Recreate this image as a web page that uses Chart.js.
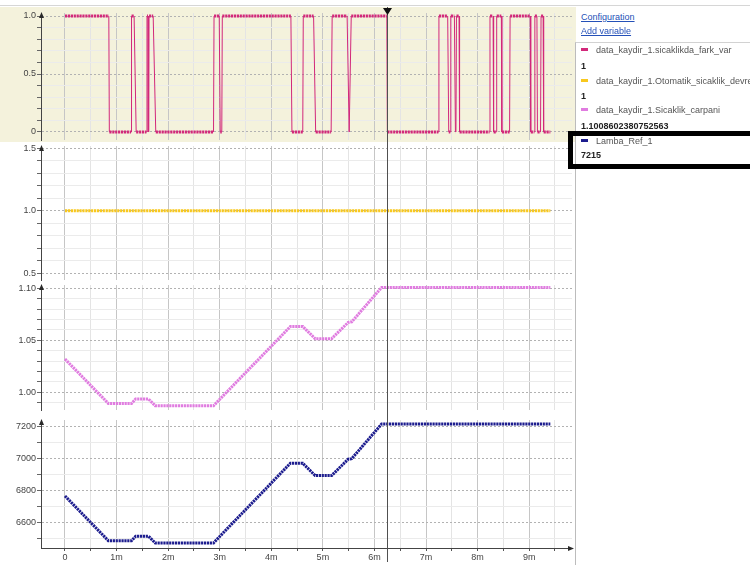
<!DOCTYPE html>
<html>
<head>
<meta charset="utf-8">
<script src="https://cdn.jsdelivr.net/npm/chart.js@4.4.1/dist/chart.umd.min.js"></script>
<style>
  html, body { margin: 0; padding: 0; background: #fff; width: 750px; height: 565px; overflow: hidden;
    font-family: "Liberation Sans", Arial, sans-serif; }
  .pane { position: absolute; left: 0; }
  canvas { display: block; }
  #topline { position: absolute; left: 0; top: 5px; width: 750px; height: 1px; background: #d6d6d6; }
  .link { position: absolute; left: 581px; font-size: 9px; line-height: 12px; color: #2450b8; text-decoration: underline; white-space: nowrap; }
  #box { position: absolute; left: 575px; top: 42px; width: 175px; height: 523px; border-left: 1px solid #bcbcbc; border-top: 1px solid #d2d2d2; background: #fff; }
  .row { position: absolute; left: 581px; font-size: 9px; line-height: 12px; white-space: nowrap; }
  .name { color: #555; }
  .val { color: #222; font-weight: bold; }
  .sw { display: inline-block; width: 7px; height: 3px; vertical-align: middle; margin-right: 8px; position: relative; top: -1px; }
  #focus { position: absolute; left: 568px; top: 131px; width: 200px; height: 38px; border: 5px solid #000; box-sizing: border-box; }
</style>
</head>
<body>
<div id="topline"></div>
<div class="pane" style="top:7px"><canvas id="c1" width="576" height="135" style="background:#f4f2dc"></canvas></div>
<div class="pane" style="top:142px"><canvas id="c2" width="576" height="140"></canvas></div>
<div class="pane" style="top:282px"><canvas id="c3" width="576" height="136"></canvas></div>
<div class="pane" style="top:418px"><canvas id="c4" width="576" height="147"></canvas></div>

<div class="link" style="top:11px">Configuration</div>
<div class="link" style="top:25px">Add variable</div>
<div id="box"></div>
<div id="legend"></div>
<div id="focus"></div>

<script>
// ---- time axis (minutes) ----
const xTickLabels = ['0', '1m', '2m', '3m', '4m', '5m', '6m', '7m', '8m', '9m'];
const cursorTime = 6.24;

// ---- variables shown in the side list ----
const seriesNames = [
  'data_kaydir_1.sicaklikda_fark_var',
  'data_kaydir_1.Otomatik_sicaklik_devrede',
  'data_kaydir_1.Sicaklik_carpani',
  'Lamba_Ref_1'
];
const seriesColors = ['#d2287a', '#f8c81e', '#e07ce0', '#1c1c8e'];
const cursorValues = ['1', '1', '1.1008602380752563', '7215'];

// ---- sicaklikda_fark_var (0 / 1 signal) ----
const farkTime = [0, 0.85, 0.86, 1.28, 1.29, 1.34, 1.38, 1.58, 1.59, 1.61, 1.615, 1.625,
  1.63, 1.71, 1.76, 2.88, 2.89, 2.99, 3.01, 3.04, 3.05, 4.38, 4.40, 4.61, 4.62, 4.82, 4.86,
  5.16, 5.18, 5.47, 5.51, 5.55, 6.24, 6.25, 7.24, 7.25, 7.42, 7.44, 7.47, 7.48, 7.55, 7.57,
  7.58, 7.59, 7.64, 7.65, 8.23, 8.24, 8.30, 8.31, 8.36, 8.37, 8.46, 8.47, 8.62, 8.63, 9.02,
  9.03, 9.10, 9.11, 9.15, 9.16, 9.22, 9.23, 9.27, 9.28, 9.41];
const farkValue = [1, 1, 0, 0, 1, 1, 0, 0, 1, 1, 0, 0, 1, 1, 0, 0, 1, 1, 0, 0, 1, 1, 0, 0,
  1, 1, 0, 0, 1, 1, 0, 1, 1, 0, 0, 1, 1, 0, 0, 1, 1, 0, 0, 1, 1, 0, 0, 1, 1, 0, 0, 1, 1, 0, 0,
  1, 1, 0, 0, 1, 1, 0, 0, 1, 1, 0, 0];

// ---- Otomatik_sicaklik_devrede ----
const otoTime = [0, 9.41];
const otoValue = [1, 1];

// ---- Sicaklik_carpani ----
const carpTime = [0, 0.84, 1.29, 1.37, 1.62, 1.75, 2.88, 4.37, 4.61, 4.85, 5.17, 5.49, 5.56, 6.14, 9.41];
const carpValue = [1.032, 0.9893, 0.9893, 0.9935, 0.9935, 0.9871, 0.9871, 1.0633, 1.0633,
  1.0516, 1.0516, 1.0672, 1.0678, 1.1009, 1.1009];

// ---- Lamba_Ref_1 ----
const lambaTime = [0, 0.84, 1.29, 1.37, 1.62, 1.75, 2.88, 4.37, 4.61, 4.85, 5.17, 5.49, 5.56, 6.14, 9.41];
const lambaValue = [6764, 6484, 6484, 6511, 6511, 6470, 6470, 6969, 6969, 6892, 6892, 6994, 6998, 7215, 7215];

// ---- y-axis labelled ticks per panel ----
const yMajor1 = [0, 0.5, 1.0], yLabels1 = ['0', '0.5', '1.0'];
const yMajor2 = [0.5, 1.0, 1.5], yLabels2 = ['0.5', '1.0', '1.5'];
const yMajor3 = [1.00, 1.05, 1.10], yLabels3 = ['1.00', '1.05', '1.10'];
const yMajor4 = [6600, 6800, 7000, 7200], yLabels4 = ['6600', '6800', '7000', '7200'];

// side list
const legend = document.getElementById('legend');
const nameTops = [44, 74.5, 104, 135];
const valTops = [59.5, 89.5, 120, 148.5];
seriesNames.forEach((n, i) => {
  const r = document.createElement('div');
  r.className = 'row name';
  r.style.top = nameTops[i] + 'px';
  r.innerHTML = '<span class="sw" style="background:' + seriesColors[i] + '"></span>' + n;
  legend.appendChild(r);
  const v = document.createElement('div');
  v.className = 'row val';
  v.style.top = valTops[i] + 'px';
  v.textContent = cursorValues[i];
  legend.appendChild(v);
});

const pts = (t, v) => t.map((x, i) => ({ x: x, y: v[i] }));
const near = (v, list) => list.findIndex(m => Math.abs(v - m) < 1e-7);

// evenly spaced ticks between the axis limits
const stepTicks = step => s => {
  const out = [];
  const k0 = Math.ceil(s.min / step - 1e-9), k1 = Math.floor(s.max / step + 1e-9);
  for (let k = k0; k <= k1; k++) out.push({ value: Math.round(k * step * 1e6) / 1e6 });
  s.ticks = out;
};

// axis arrows + time cursor
const decor = {
  id: 'decor',
  afterDraw(chart, args, o) {
    const { ctx, chartArea: a, scales } = chart;
    ctx.save();
    ctx.fillStyle = '#2a2a2a';
    const lx = a.left + 0.5;
    ctx.beginPath();
    ctx.moveTo(lx, a.top - 1);
    ctx.lineTo(lx - 2.5, a.top + 5);
    ctx.lineTo(lx + 2.5, a.top + 5);
    ctx.closePath();
    ctx.fill();
    if (o.xArrow) {
      const by = a.bottom + 0.5;
      ctx.beginPath();
      ctx.moveTo(a.right + 2, by);
      ctx.lineTo(a.right - 4, by - 2.5);
      ctx.lineTo(a.right - 4, by + 2.5);
      ctx.closePath();
      ctx.fill();
    }
    const cx = Math.round(scales.x.getPixelForValue(cursorTime)) + 0.5;
    ctx.strokeStyle = '#505050';
    ctx.lineWidth = 1;
    ctx.beginPath();
    ctx.moveTo(cx, o.cursorTop || 0);
    ctx.lineTo(cx, o.cursorBottom || chart.height);
    ctx.stroke();
    if (o.marker) {
      ctx.fillStyle = '#111';
      ctx.beginPath();
      ctx.moveTo(cx - 4.5, 1);
      ctx.lineTo(cx + 4.5, 1);
      ctx.lineTo(cx, 8);
      ctx.closePath();
      ctx.fill();
    }
    ctx.restore();
  }
};

const tickFont = { family: 'Liberation Sans', size: 9 };

function xScale(showLabels) {
  return {
    type: 'linear',
    min: -0.465,
    max: 9.83,
    afterBuildTicks: stepTicks(0.5),
    afterFit: s => { s.height = showLabels ? 17 : 0; s.paddingLeft = 0; s.paddingRight = 0; },
    border: { display: showLabels, color: '#444', width: 1 },
    grid: {
      drawTicks: showLabels,
      tickLength: 3,
      tickColor: '#555',
      color: c => (c.tick && Math.abs(c.tick.value - Math.round(c.tick.value)) < 1e-6) ? '#c6c6c6' : '#e4e4e4'
    },
    ticks: {
      display: showLabels,
      autoSkip: false,
      maxRotation: 0,
      padding: 1,
      color: '#444',
      font: tickFont,
      callback: v => {
        const k = Math.round(v);
        return Math.abs(v - k) < 1e-6 && k >= 0 && k < xTickLabels.length ? xTickLabels[k] : '';
      }
    }
  };
}

function yScale(min, max, step, majors, labels) {
  return {
    type: 'linear',
    min: min,
    max: max,
    afterBuildTicks: stepTicks(step),
    afterFit: s => { s.width = 41; s.paddingTop = 0; s.paddingBottom = 0; },
    border: {
      color: '#444',
      width: 1,
      dash: c => (c.tick && near(c.tick.value, majors) >= 0) ? [2, 2] : []
    },
    grid: {
      tickLength: 4,
      tickColor: '#666',
      color: c => (c.tick && near(c.tick.value, majors) >= 0) ? '#b2b2b2' : '#ebebeb'
    },
    ticks: {
      autoSkip: false,
      padding: 1,
      color: '#444',
      font: tickFont,
      callback: v => {
        const i = near(v, majors);
        return i >= 0 ? labels[i] : '';
      }
    }
  };
}

function makeChart(id, datasets, yOpts, pad, decorOpts, showX) {
  return new Chart(document.getElementById(id), {
    type: 'line',
    data: { datasets: datasets },
    options: {
      responsive: false,
      animation: false,
      devicePixelRatio: 1,
      layout: { padding: { top: pad[0], bottom: pad[1], left: 0, right: 4 } },
      elements: { point: { radius: 0 }, line: { tension: 0, borderCapStyle: 'butt' } },
      plugins: { legend: { display: false }, tooltip: { enabled: false }, decor: decorOpts },
      scales: { x: xScale(showX), y: yOpts }
    },
    plugins: [decor]
  });
}

const beads = [2.2, 0.7];

makeChart('c1', [{
  data: pts(farkTime, farkValue),
  borderColor: seriesColors[0],
  borderWidth: 1,
  segment: {
    borderWidth: s => s.p0.parsed.y === s.p1.parsed.y ? 3 : 1,
    borderDash: s => s.p0.parsed.y === s.p1.parsed.y ? beads : []
  }
}], yScale(-0.069, 1.026, 0.1, yMajor1, yLabels1), [6, 2], { marker: true }, false);

makeChart('c2', [{
  data: pts(otoTime, otoValue),
  borderColor: seriesColors[1],
  borderWidth: 3,
  borderDash: beads
}], yScale(0.446, 1.518, 0.1, yMajor2, yLabels2), [4, 2], {}, false);

makeChart('c3', [{
  data: pts(carpTime, carpValue),
  borderColor: seriesColors[2],
  borderWidth: 3,
  borderDash: beads
}], yScale(0.983, 1.1032, 0.01, yMajor3, yLabels3), [3, 8], {}, false);

makeChart('c4', [{
  data: pts(lambaTime, lambaValue),
  borderColor: seriesColors[3],
  borderWidth: 3,
  borderDash: beads
}], yScale(6438, 7240, 100, yMajor4, yLabels4), [2, 0], { xArrow: true, cursorBottom: 144 }, true);
</script>
</body>
</html>
